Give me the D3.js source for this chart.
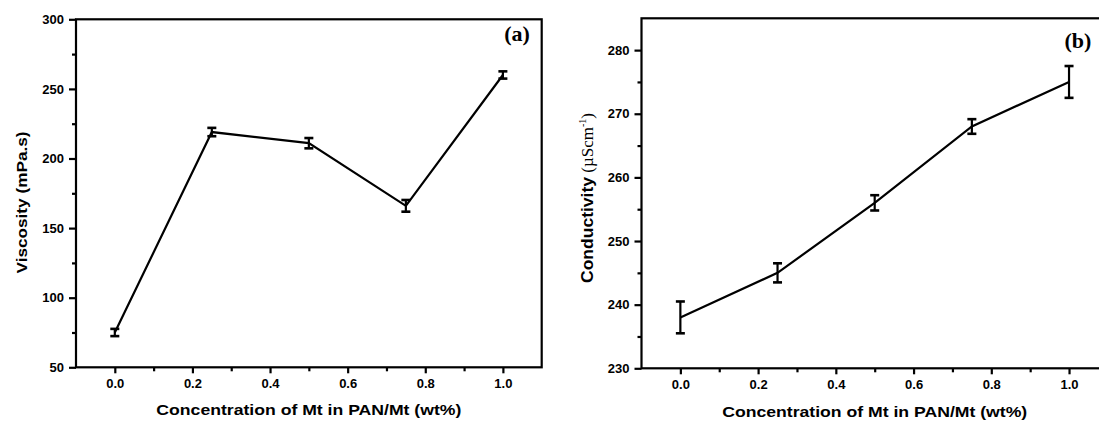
<!DOCTYPE html>
<html><head><meta charset="utf-8">
<script src="https://cdn.jsdelivr.net/npm/d3@7"></script>
<style>
body{margin:0;background:#fff}
svg{display:block}
text{font-family:"Liberation Sans",Arial,sans-serif;font-weight:bold;fill:#000}
</style>
</head><body><svg id="c" width="1099" height="421"></svg>
<script>
// ---- data ----
const concentrations = [0, 0.25, 0.5, 0.75, 1.0];
const viscosity = [75, 219, 211, 166, 260];
const viscosityErr = [2.6, 3, 3.7, 4.2, 2.6];
const conductivity = [238, 245, 256, 268, 275];
const conductivityErr = [2.5, 1.5, 1.2, 1.15, 2.5];
const xMajorTicks = [0, 0.2, 0.4, 0.6, 0.8, 1.0];
const xMinorTicks = [0.1, 0.3, 0.5, 0.7, 0.9];
const viscTicks = [50, 100, 150, 200, 250, 300];
const viscMinor = [75, 125, 175, 225, 275];
const condTicks = [230, 240, 250, 260, 270, 280];
const condMinor = [235, 245, 255, 265, 275];
const xTitle = "Concentration of Mt in PAN/Mt (wt%)";

const svg = d3.select("#c");

function panel(cfg) {
  const x = d3.scaleLinear().domain([-0.1, 1.1]).range(cfg.xr);
  const y = d3.scaleLinear().domain(cfg.yd).range(cfg.yr);
  const g = svg.append("g");

  // frame
  g.append("rect")
    .attr("x", cfg.xr[0]).attr("y", cfg.yr[1])
    .attr("width", cfg.xr[1] - cfg.xr[0]).attr("height", cfg.yr[0] - cfg.yr[1])
    .attr("fill", "none").attr("stroke", "#000").attr("stroke-width", 2.2);

  // x axis
  const xa = g.append("g").attr("transform", `translate(0,${cfg.yr[0]})`)
    .call(d3.axisBottom(x).tickValues(xMajorTicks).tickFormat(d3.format(".1f"))
      .tickSize(6).tickPadding(5).tickSizeOuter(0));
  const xm = g.append("g").attr("transform", `translate(0,${cfg.yr[0]})`)
    .call(d3.axisBottom(x).tickValues(xMinorTicks).tickFormat("").tickSize(4).tickSizeOuter(0));
  // y axis
  const ya = g.append("g").attr("transform", `translate(${cfg.xr[0]},0)`)
    .call(d3.axisLeft(y).tickValues(cfg.ticks).tickSize(7).tickPadding(5).tickSizeOuter(0));
  const ym = g.append("g").attr("transform", `translate(${cfg.xr[0]},0)`)
    .call(d3.axisLeft(y).tickValues(cfg.minor).tickFormat("").tickSize(4).tickSizeOuter(0));
  [xa, xm, ya, ym].forEach(a => {
    a.select(".domain").remove();
    a.selectAll("line").attr("stroke", "#000").attr("stroke-width", 2.2);
    a.selectAll("text").style("font-size", "13px").style("font-weight", "bold")
      .style("font-family", '"Liberation Sans",Arial,sans-serif').attr("fill", "#111");
  });

  // line
  const pts = concentrations.map((c, i) => ({c, v: cfg.vals[i], e: cfg.errs[i]}));
  g.append("path").datum(pts)
    .attr("d", d3.line().x(d => x(d.c)).y(d => y(d.v)))
    .attr("fill", "none").attr("stroke", "#000").attr("stroke-width", 2.2);

  // error bars
  const eb = g.selectAll(".eb").data(pts).enter().append("g");
  eb.append("line").attr("x1", d => x(d.c)).attr("x2", d => x(d.c))
    .attr("y1", d => y(d.v - d.e)).attr("y2", d => y(d.v + d.e)).attr("stroke-width", 2.2);
  eb.append("line").attr("x1", d => x(d.c) - 4.5).attr("x2", d => x(d.c) + 4.5)
    .attr("y1", d => y(d.v - d.e)).attr("y2", d => y(d.v - d.e)).attr("stroke-width", 2.6);
  eb.append("line").attr("x1", d => x(d.c) - 4.5).attr("x2", d => x(d.c) + 4.5)
    .attr("y1", d => y(d.v + d.e)).attr("y2", d => y(d.v + d.e)).attr("stroke-width", 2.6);
  eb.selectAll("line").attr("stroke", "#000");

  // x title
  g.append("text").attr("x", (cfg.xr[0] + cfg.xr[1]) / 2).attr("y", cfg.xtY)
    .attr("text-anchor", "middle").attr("dy", "0.35em")
    .style("font-size", "15px").attr("textLength", 305).attr("lengthAdjust", "spacingAndGlyphs")
    .text(xTitle);

  // panel label
  g.append("text").attr("x", cfg.lab[0]).attr("y", cfg.lab[1]).attr("text-anchor", "middle")
    .attr("dy", "0.35em")
    .style("font-family", '"Liberation Serif","Times New Roman",serif').style("font-size", "22px")
    .text(cfg.label);

  return {x, y, g};
}

const a = panel({
  xr: [76, 541.7], yd: [50, 300], yr: [367.3, 19.3],
  ticks: viscTicks, minor: viscMinor, vals: viscosity, errs: viscosityErr,
  xtY: 410, lab: [517, 33], label: "(a)"
});
const b = panel({
  xr: [641.5, 1107.9], yd: [230, 285], yr: [368.3, 18.3],
  ticks: condTicks, minor: condMinor, vals: conductivity, errs: conductivityErr,
  xtY: 411.5, lab: [1078, 40], label: "(b)"
});

// y titles
a.g.append("text").attr("transform", "translate(22,202.5) rotate(-90)")
  .attr("text-anchor", "middle").attr("dy", "0.35em").style("font-size", "15px")
  .attr("textLength", 142).attr("lengthAdjust", "spacingAndGlyphs")
  .text("Viscosity (mPa.s)");

const ct = b.g.append("text").attr("transform", "translate(587,198) rotate(-90)")
  .attr("text-anchor", "middle").attr("dy", "0.35em").style("font-size", "16px");
ct.append("tspan").attr("textLength", 106).attr("lengthAdjust", "spacingAndGlyphs").text("Conductivity");
const serif = '"Liberation Serif","Times New Roman",serif';
ct.append("tspan").style("font-family", serif).style("font-weight", "normal")
  .style("font-size", "17px").text(" (\u00B5Scm");
ct.append("tspan").style("font-family", serif).style("font-weight", "normal")
  .style("font-size", "10px").attr("dy", "-7").text("-1");
ct.append("tspan").style("font-family", serif).style("font-weight", "normal")
  .style("font-size", "17px").attr("dy", "7").text(")");
</script>
</body></html>
